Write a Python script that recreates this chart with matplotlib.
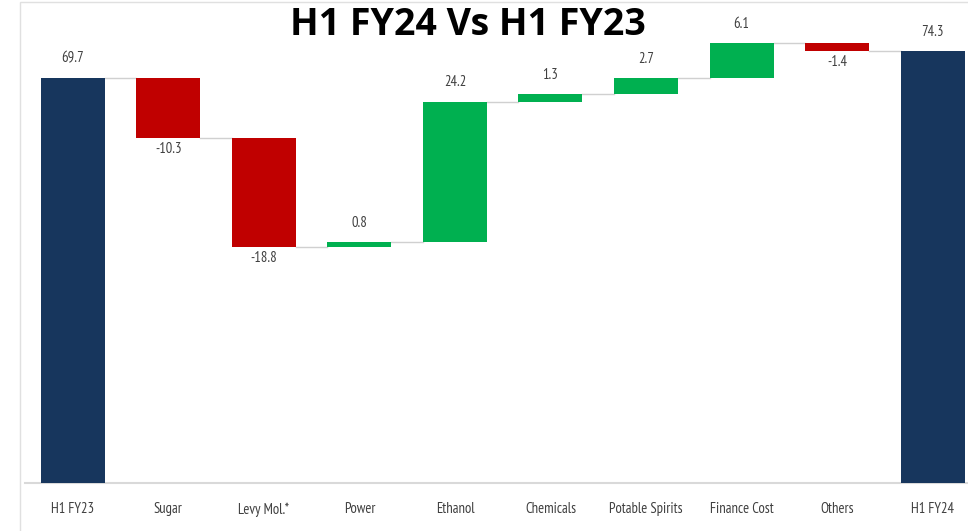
import numpy as np
import matplotlib.pyplot as plt
from matplotlib.patches import Rectangle
from matplotlib import font_manager

categories = ["H1 FY23", "Sugar", "Levy Mol.*", "Power", "Ethanol", "Chemicals",
              "Potable Spirits", "Finance Cost", "Others", "H1 FY24"]
start_value = 69.7
changes = [-10.3, -18.8, 0.8, 24.2, 1.3, 2.7, 6.1, -1.4]
end_value = 74.3

navy = "#17365D"
red = "#C00000"
green = "#00B050"
txt = "#404040"

# pick a narrow font for the small labels if one is around
installed = {f.name for f in font_manager.fontManager.ttflist}
narrow = [f for f in ["PT Sans Narrow", "Liberation Sans Narrow"] if f in installed] + ["DejaVu Sans"]

fig = plt.figure(figsize=(9.68, 5.31), dpi=100)
ax = fig.add_axes([25 / 968, 1 - 483 / 531, 1 - 25 / 968, 483 / 531])

# waterfall geometry
levels = np.concatenate([[start_value], start_value + np.cumsum(changes)])
bottoms = [0] + [min(levels[i], levels[i + 1]) for i in range(len(changes))] + [0]
heights = [start_value] + [abs(c) for c in changes] + [end_value]
colors = [navy] + [green if c > 0 else red for c in changes] + [navy]
x = np.arange(len(categories))
w = 0.67

ax.bar(x, heights, bottom=bottoms, width=w, color=colors, zorder=3)

# connectors
tops = list(levels) + [end_value]
for i in range(len(categories) - 1):
    ax.plot([x[i] + w / 2, x[i + 1] - w / 2], [tops[i], tops[i]],
            color="#D0D0D0", lw=1, zorder=2)

# value labels
label_vals = [start_value] + changes + [end_value]
for i, v in enumerate(label_vals):
    if v > 0:
        y = bottoms[i] + heights[i]
        off = 14
    else:
        y = bottoms[i]
        off = -8
    ax.annotate(f"{v:.1f}", (x[i], y), xytext=(0, off), textcoords="offset points",
                ha="center", va="center", fontsize=10.5, color=txt, family=narrow)

ax.set_xlim(-0.5, 9.37)
ax.set_ylim(0, 83.1)
ax.set_xticks(x)
ax.set_xticklabels(categories, fontsize=10.5, color=txt, family=narrow)
ax.tick_params(axis="x", length=0, pad=14)
ax.set_yticks([])
for s in ["top", "right", "left"]:
    ax.spines[s].set_visible(False)
ax.spines["bottom"].set_color("#D9D9D9")
ax.spines["bottom"].set_linewidth(1.5)
ax.patch.set_alpha(0)

fig.text(468 / 968, 1 - 25 / 531, "H1 FY24 Vs H1 FY23", ha="center", va="center",
         fontsize=27, fontweight="bold", family=["Open Sans", "DejaVu Sans"])

# light frame around the chart area
fig.patches.append(Rectangle((20 / 968, -0.01), 1, 1 - 2 / 531 + 0.01, transform=fig.transFigure,
                             fill=False, edgecolor="#E0E0E0", lw=1))

fig.savefig("out.png", dpi=100)
